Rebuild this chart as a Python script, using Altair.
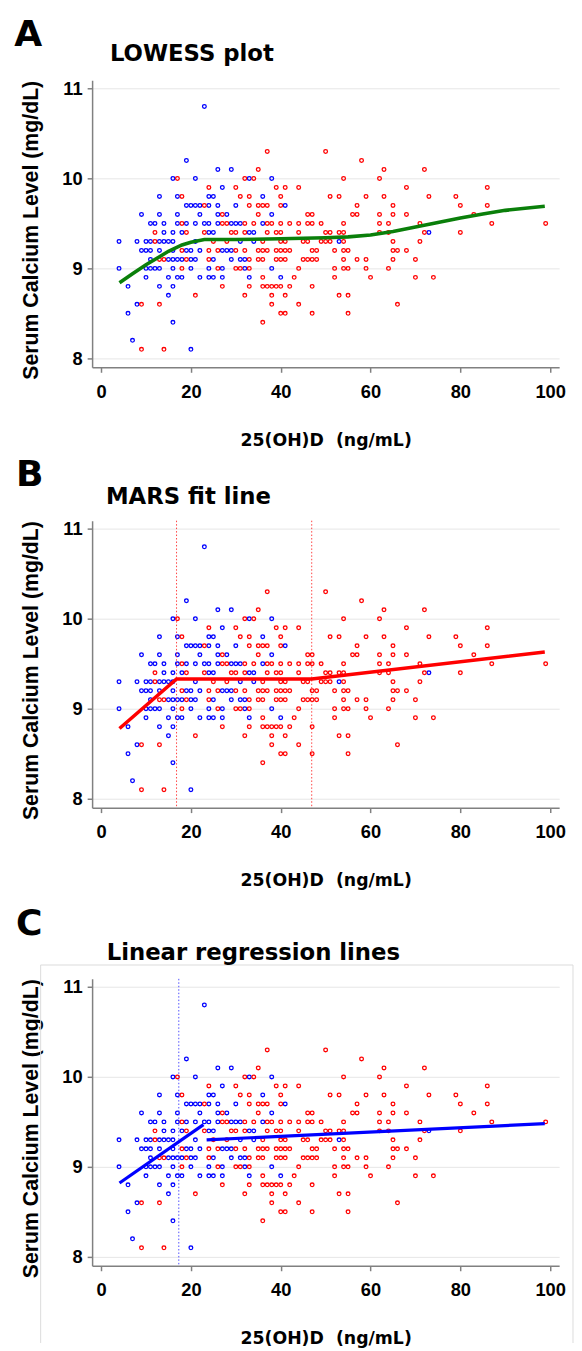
import altair as alt
import pandas as pd

# ---------------- data ----------------
CALCIUM_LEVELS = [10.8, 10.3, 10.2, 10.1, 10.0, 9.9, 9.8, 9.7, 9.6, 9.5, 9.4,
                  9.3, 9.2, 9.1, 9.0, 8.9, 8.8, 8.7, 8.6, 8.5, 8.4, 8.2, 8.1]

# 25(OH)D values of the blue circles, per serum calcium level
BLUE_VITD = {
    10.8: [23],
    10.3: [],
    10.2: [19],
    10.1: [26, 29],
    10.0: [16, 21, 33, 38],
    9.9: [27],
    9.8: [13, 17, 24, 25, 36],
    9.7: [19, 20, 21, 22, 24, 26, 30, 41],
    9.6: [9, 13, 17, 22, 26, 28, 38],
    9.5: [11, 12, 14, 17, 19, 21, 23, 24, 26, 29, 30, 31, 36],
    9.4: [14, 16, 18, 24, 25, 33, 34, 73],
    9.3: [4, 8, 10, 11, 13, 14, 15, 16, 21, 31, 34, 53],
    9.2: [9, 10, 11, 13, 16, 19, 20, 22, 27, 28, 29],
    9.1: [11, 15, 16, 17, 18, 20, 21, 25, 29, 31, 32],
    9.0: [4, 10, 11, 12, 13, 16, 20, 24, 27, 32, 38],
    8.9: [10, 15, 17, 18, 22, 24, 25, 27, 33, 40],
    8.8: [6, 13, 16],
    8.7: [15],
    8.6: [8],
    8.5: [6],
    8.4: [16],
    8.2: [7],
    8.1: [20],
}

# 25(OH)D values of the red circles, per serum calcium level
RED_VITD = {
    10.8: [],
    10.3: [37, 50],
    10.2: [58],
    10.1: [35, 63, 72],
    10.0: [17, 32, 34, 54, 62],
    9.9: [24, 30, 39, 41, 44, 68, 86],
    9.8: [18, 31, 33, 40, 51, 53, 59, 63, 73, 79],
    9.7: [23, 33, 35, 36, 37, 40, 57, 65, 80, 86],
    9.6: [27, 35, 46, 47, 56, 57, 62, 65, 68, 83],
    9.5: [18, 27, 28, 32, 34, 37, 38, 40, 42, 44, 46, 47, 49, 54, 62, 64, 71, 87, 99],
    9.4: [12, 19, 23, 29, 30, 32, 37, 39, 40, 44, 50, 51, 53, 54, 62, 64, 72, 80],
    9.3: [12, 25, 28, 36, 40, 41, 45, 46, 49, 50, 51, 54, 65, 71],
    9.2: [18, 24, 26, 30, 32, 35, 36, 37, 39, 40, 41, 42, 47, 48, 52, 54, 55, 65, 66, 68],
    9.1: [13, 14, 19, 24, 33, 35, 36, 39, 40, 41, 45, 46, 47, 48, 54, 57, 59, 65, 70],
    9.0: [18, 26, 30, 31, 33, 44, 52, 54, 55, 59, 64],
    8.9: [36, 43, 52, 60, 70, 74],
    8.8: [27, 33, 36, 37, 38, 39, 40, 42, 47],
    8.7: [21, 32, 38, 41, 53, 55],
    8.6: [9, 13, 38, 44, 66],
    8.5: [40, 41, 47, 55],
    8.4: [36],
    8.2: [],
    8.1: [9, 14],
}

# fitted curves
LOWESS_X = [4.1, 7, 10, 13, 15, 18, 20, 23, 30, 40, 50, 55, 60, 65, 70, 75, 80, 85, 90, 98.8]
LOWESS_Y = [8.84, 8.94, 9.04, 9.13, 9.19, 9.26, 9.29, 9.32, 9.32, 9.33, 9.34, 9.35,
            9.37, 9.41, 9.46, 9.51, 9.56, 9.605, 9.645, 9.69]

MARS_X = [4.1, 16.8, 46.9, 98.8]
MARS_Y = [8.78, 9.33, 9.33, 9.63]
MARS_KNOTS = [16.8, 46.9]

LIN1_X = [4.1, 22.8]
LIN1_Y = [8.82, 9.47]
LIN2_X = [23.5, 98.8]
LIN2_Y = [9.30, 9.48]
LIN_BREAK = [17.3]

X_TICKS = [0, 20, 40, 60, 80, 100]
Y_TICKS = [8, 9, 10, 11]
GROUPS = ["blue", "red"]
GROUP_COLORS = ["#0000ff", "#ff0000"]

# ---------------- tables ----------------
rows = []
for g, table in (("blue", BLUE_VITD), ("red", RED_VITD)):
    for ca in CALCIUM_LEVELS:
        for v in table[ca]:
            rows.append({"vitd": v, "calcium": ca, "grp": g})
points_df = pd.DataFrame(rows)

W, H = 472, 290
XSC = alt.Scale(domain=[-2, 102], nice=False, zero=False)
YSC = alt.Scale(domain=[7.9, 11.09], nice=False, zero=False)

x_axis = alt.Axis(values=X_TICKS, grid=False, title="25(OH)D\u00a0 (ng/mL)",
                  labelPadding=10, labelFlush=False, titleX=W / 2, titleY=79,
                  titleAlign="center", titleBaseline="alphabetic",
                  titleFont="DejaVu Sans", titleFontSize=17.5)
y_axis = alt.Axis(values=Y_TICKS, grid=True, title="Serum Calcium Level (mg/dL)",
                  labelPadding=5, titleAngle=270, titleX=-55.5, titleY=151,
                  titleAlign="center", titleBaseline="alphabetic",
                  titleFont="Liberation Sans", titleFontSize=21.5)

X = alt.X("vitd:Q", scale=XSC, axis=x_axis)
Y = alt.Y("calcium:Q", scale=YSC, axis=y_axis)

one = pd.DataFrame({"k": [0]})


def scatter():
    return alt.Chart(points_df).mark_point(
        shape="circle", filled=False, size=14, strokeWidth=1.3, opacity=1
    ).encode(
        x=X, y=Y,
        color=alt.Color("grp:N", scale=alt.Scale(domain=GROUPS, range=GROUP_COLORS), legend=None),
    )


def line(xs, ys, color, width):
    df = pd.DataFrame({"vitd": xs, "calcium": ys})
    return alt.Chart(df).mark_line(color=color, strokeWidth=width).encode(x=X, y=Y)


def vrules(xs, color):
    df = pd.DataFrame({"vitd": xs})
    return alt.Chart(df).mark_rule(color=color, strokeWidth=1, strokeDash=[1.5, 2],
                                   opacity=0.85).encode(x=X)


def text(label, dx, dy, size):
    return alt.Chart(one).mark_text(
        align="left", baseline="alphabetic", font="DejaVu Sans",
        fontWeight="bold", fontSize=size, color="black"
    ).encode(x=alt.value(dx), y=alt.value(dy), text=alt.value(label))


def frame_side(x1, x2, y1, y2):
    return alt.Chart(one).mark_rule(color="#dcdcdc", strokeWidth=1).encode(
        x=alt.value(x1), x2=alt.value(x2), y=alt.value(y1), y2=alt.value(y2))


panel_a = alt.layer(
    scatter(),
    line(LOWESS_X, LOWESS_Y, "#0a7f0a", 3.6),
    text("A", -78.7, -35, 36.5),
    text("LOWESS plot", 18, -20, 23),
).properties(width=W, height=H)

panel_b = alt.layer(
    scatter(),
    vrules(MARS_KNOTS, "#ff2020"),
    line(MARS_X, MARS_Y, "#ff0000", 3.6),
    text("B", -77, -35, 36.5),
    text("MARS fit line", 14, -17, 23),
).properties(width=W, height=H)

panel_c = alt.layer(
    frame_side(-52, -52, -14, 368),
    frame_side(-52, 486, -14, -14),
    frame_side(486, 486, -14, 368),
    scatter(),
    vrules(LIN_BREAK, "#3030ff"),
    line(LIN1_X, LIN1_Y, "#0000ff", 3.2),
    line(LIN2_X, LIN2_Y, "#0000ff", 3.2),
    text("C", -77, -44.7, 36.5),
    text("Linear regression lines", 14.7, -18.7, 23),
).properties(width=W, height=H)

chart = alt.vconcat(
    panel_a,
    alt.vconcat(panel_b, panel_c, spacing=173, bounds="flush"),
    spacing=155, bounds="flush",
).properties(
    padding={"left": 5, "top": 1, "right": 0, "bottom": 0}
).configure_view(
    stroke="transparent"
).configure_axis(
    domainColor="#808080", domainWidth=1.5,
    tickColor="#808080", tickWidth=1.5, tickSize=5,
    labelFont="Liberation Sans", labelFontWeight="bold", labelFontSize=18.5,
    labelColor="black",
    gridColor="#e6e6e6", gridWidth=1,
    titleFontWeight="bold", titleColor="black",
)

chart.save("out.html", embed_options={"renderer": "svg", "actions": False})
